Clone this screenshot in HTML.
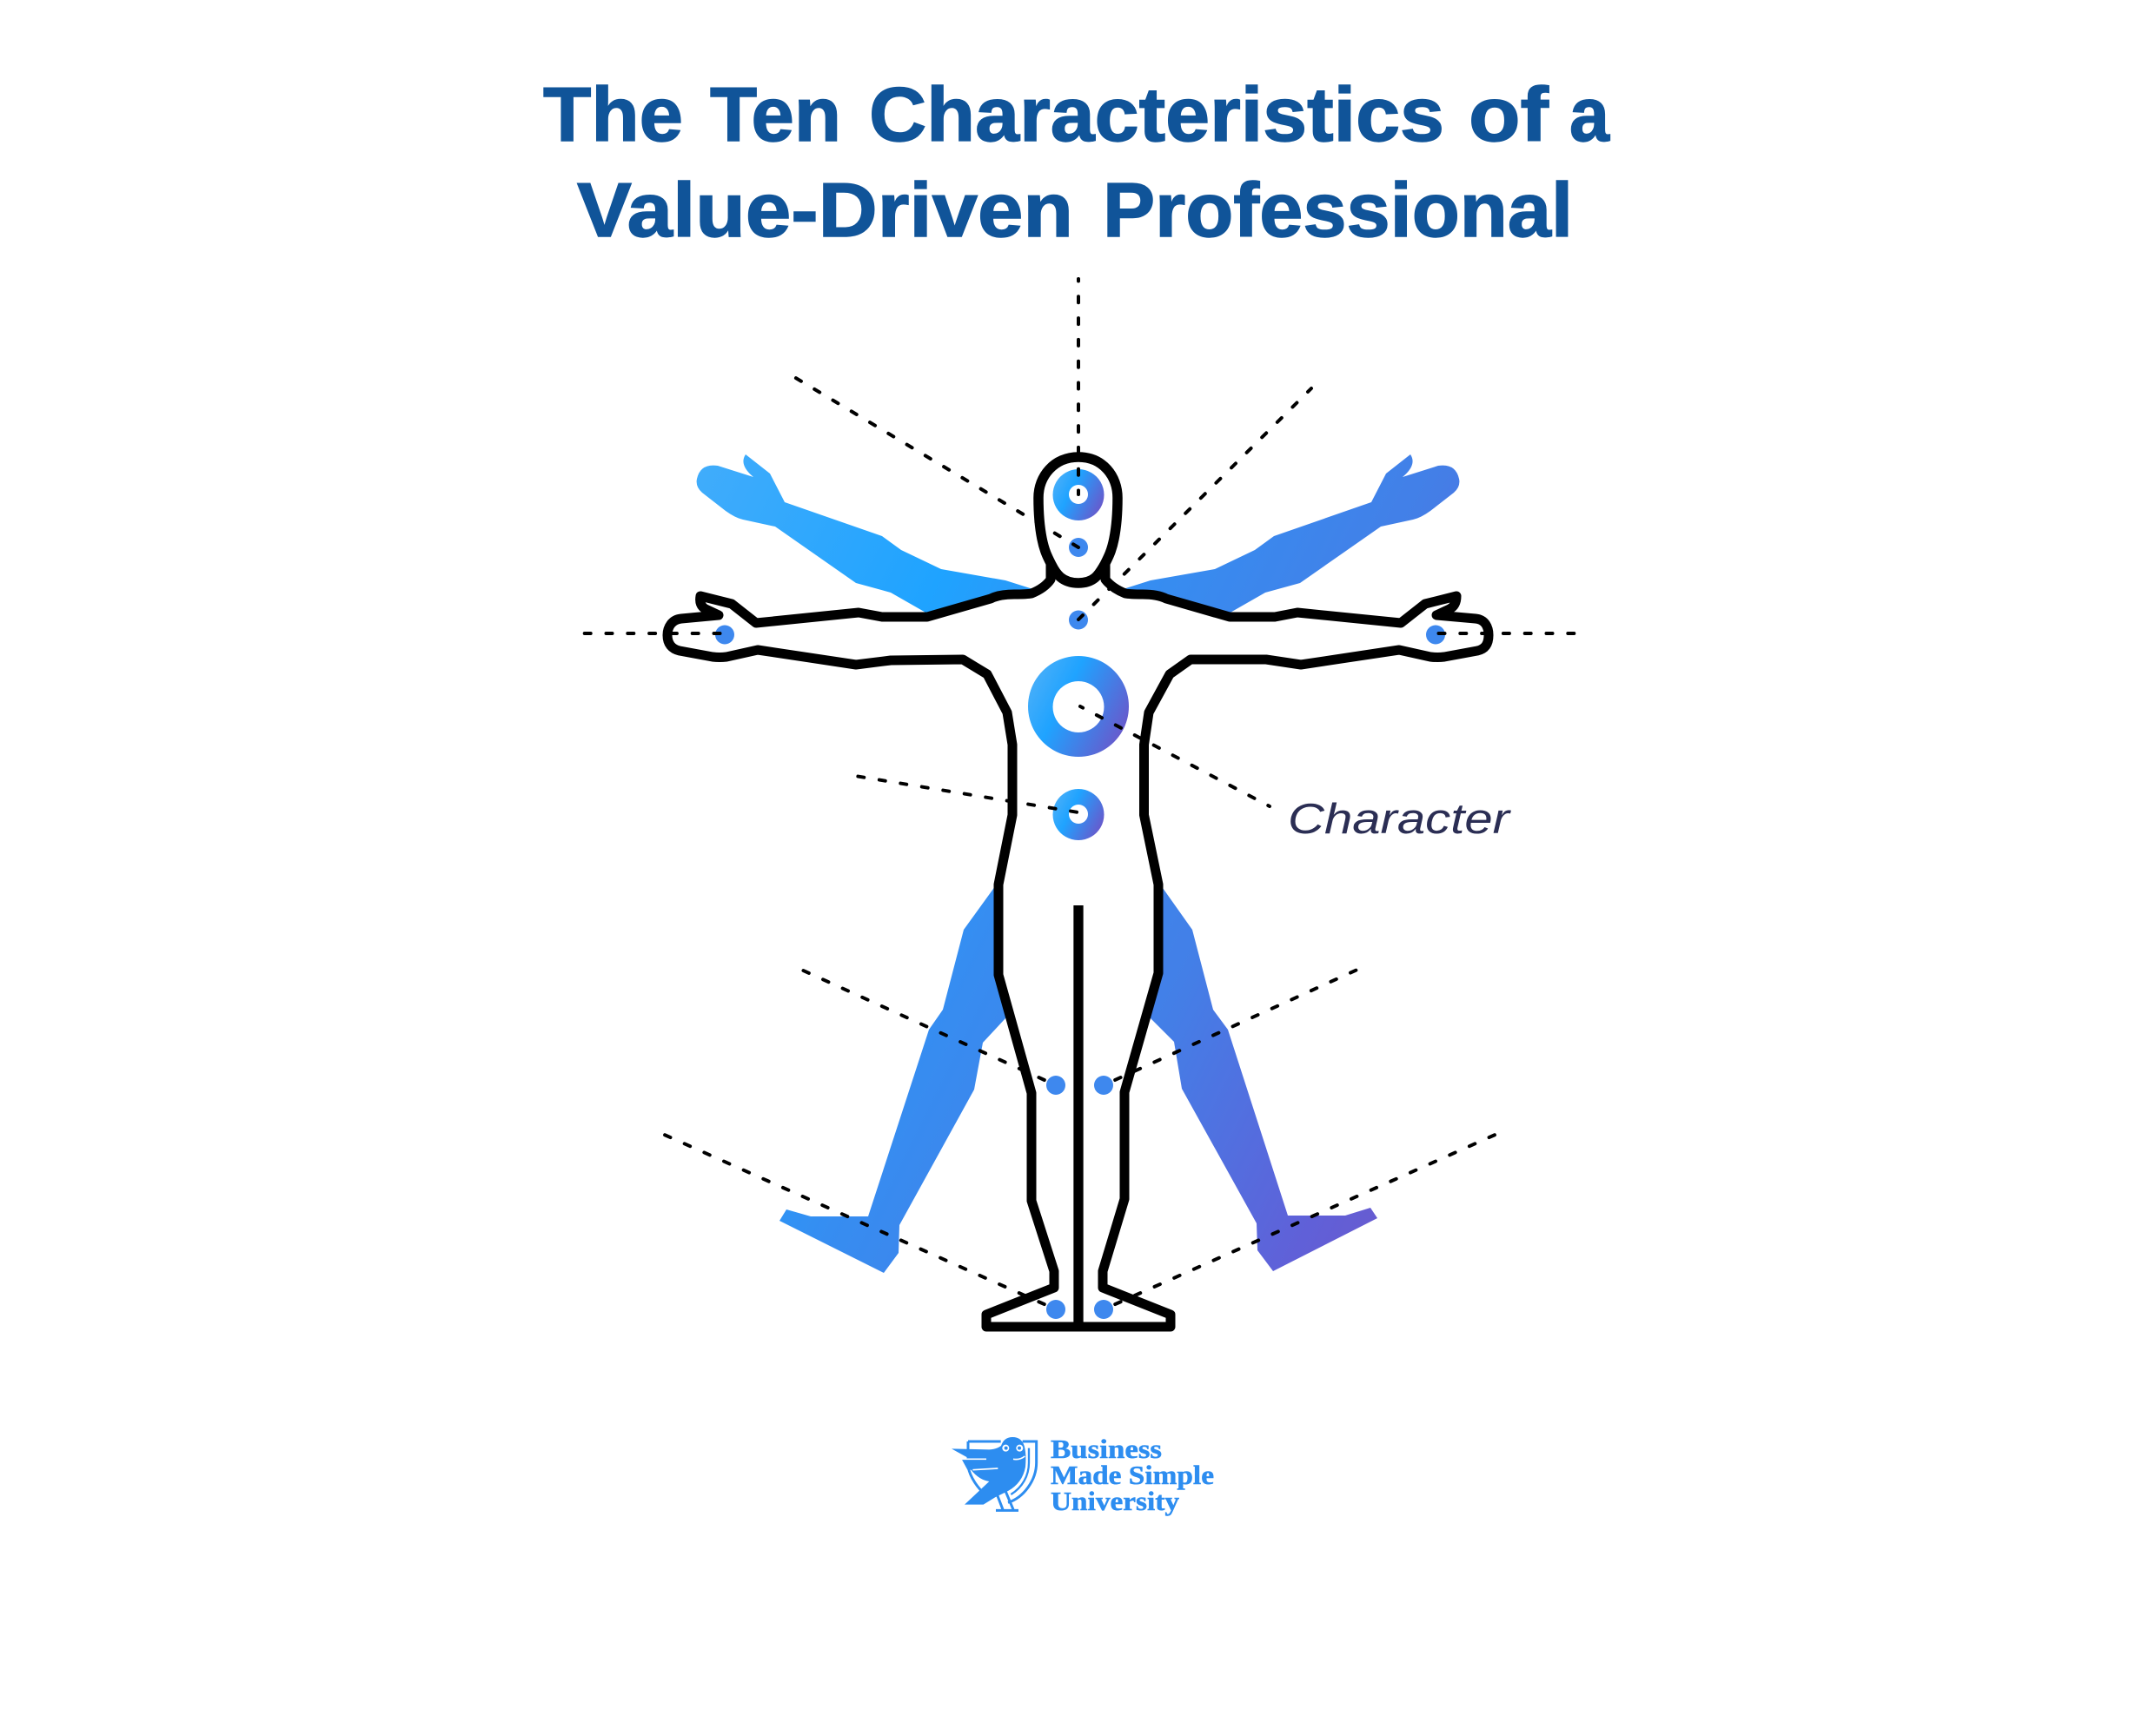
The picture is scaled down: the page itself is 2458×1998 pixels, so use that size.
<!DOCTYPE html>
<html><head><meta charset="utf-8"><style>html,body{margin:0;padding:0;background:#fff}svg{display:block}</style></head>
<body>
<svg xmlns="http://www.w3.org/2000/svg" width="2458" height="1998" viewBox="0 0 2458 1998">
<defs>
<linearGradient id="g" gradientUnits="userSpaceOnUse" x1="800" y1="550" x2="1800" y2="1050">
<stop offset="0" stop-color="#40acfb"/><stop offset=".27" stop-color="#1fa3ff"/><stop offset=".47" stop-color="#368df1"/><stop offset=".68" stop-color="#437fe7"/><stop offset=".91" stop-color="#6060d8"/><stop offset="1" stop-color="#6a5acd"/>
</linearGradient>
<linearGradient id="d" x1="0" y1=".25" x2="1" y2=".75">
<stop offset="0" stop-color="#4aaff9"/><stop offset=".35" stop-color="#1fa3ff"/><stop offset="1" stop-color="#6c55c9"/>
</linearGradient>
</defs>
<rect width="2458" height="1998" fill="#fff"/>
<g font-family="'Liberation Sans',sans-serif" font-weight="700" font-size="88" fill="#105499" stroke="#105499" stroke-width="1.4" lengthAdjust="spacingAndGlyphs">
<text x="625" y="162" textLength="161" lengthAdjust="spacingAndGlyphs">The</text>
<text x="817" y="162" textLength="151" lengthAdjust="spacingAndGlyphs">Ten</text>
<text x="1000" y="162" textLength="662" lengthAdjust="spacingAndGlyphs">Characteristics</text>
<text x="1690" y="162" textLength="92" lengthAdjust="spacingAndGlyphs">of</text>
<text x="1806" y="162" textLength="46" lengthAdjust="spacingAndGlyphs">a</text>
<text x="664" y="272" textLength="571" lengthAdjust="spacingAndGlyphs">Value-Driven</text>
<text x="1269" y="272" textLength="541" lengthAdjust="spacingAndGlyphs">Professional</text>
</g>
<g fill="url(#g)">
<path d="M858 523L886 545L903 578L1015 617L1037 633L1083 655L1157 668L1195 680L1067 706L1025 682L985 671L892 606L855 598Q846 596 835 588L808 567Q800 560 802 551Q806 533 826 536L867 549Q850 535 858 523Z"/>
<path d="M1623 523L1595 545L1578 578L1466 617L1444 633L1398 655L1324 668L1286 680L1414 706L1456 682L1496 671L1589 606L1626 598Q1635 596 1646 588L1673 567Q1681 560 1679 551Q1675 533 1655 536L1614 549Q1631 535 1623 523Z"/>
<path d="M1149 1010L1143 1023L1109 1070L1085 1162L1069 1185L999 1400L933 1400L905 1392L897 1405L1017 1465L1034 1442L1035 1410L1121 1254L1131 1200L1157 1172L1175 1150L1160 1010Z"/>
<path d="M1333 1010L1338 1022L1372 1070L1396 1162L1413 1185L1482 1399L1548 1399L1577 1390L1585 1402L1465 1463L1447 1439L1446 1408L1360 1253L1351 1199L1324 1172L1310 1150L1320 1010Z"/>
</g>
<path fill="#fff" stroke="#000" stroke-width="11" stroke-linejoin="round" d="M1209 640V667Q1202 677 1187 683Q1182 684 1167 684Q1150 684 1140 689L1067 710L1015 710L988 705L870 717L842 695L806 686Q804 697 812 701L827 708L784 712C773 713 768 722 768 731C768 741 773 747 782 749L820 756Q828 757 836 756L872 748L985 765L1025 760L1108 759L1136 776L1159 820L1165 857V938L1149 1018V1122L1187 1258V1382L1213 1463V1482L1135 1513V1527H1347V1513L1269 1482V1463L1294 1380V1257L1333 1120V1018L1316.500 938V857L1322 820L1346 776L1370 759L1457 759L1497 765L1610 748L1646 756Q1654 757 1662 756L1700 749C1709 747 1713 741 1713 731C1713 722 1709 713 1698 712L1653 708L1668 701Q1676 697 1676 686L1640 695L1612 717L1493 705L1467 710L1415 710L1342 689Q1332 684 1315 684Q1300 684 1295 683Q1280 677 1272 667V640Z"/>
<path fill="#fff" stroke="#000" stroke-width="11.500" d="M1241 526C1213 526 1195 548 1195 573C1195 590 1196 605 1199 620C1202 635 1206 642 1210 650C1215 660 1222 671 1241 671C1260 671 1265 660 1271 650C1275 642 1279 635 1282 620C1285 605 1286 590 1286 573C1286 548 1269 526 1241 526Z"/>
<path d="M1241 1042V1527" stroke="#000" stroke-width="11.300" fill="none"/>
<g fill="url(#d)" fill-rule="evenodd">
<path d="M1241 540a29.500 29.500 0 1 0 .01 0ZM1241 558a11 11 0 1 1 -.01 0Z"/>
<path d="M1241 755a58 58 0 1 0 .01 0ZM1241 784a29.500 29.500 0 1 1 -.01 0Z"/>
<path d="M1241 908a29.500 29.500 0 1 0 .01 0ZM1241 926a11 11 0 1 1 -.01 0Z"/>
</g>
<g fill="#3e88ee">
<circle cx="1241" cy="630" r="11"/><circle cx="1241" cy="713.500" r="11"/>
<circle cx="834" cy="730.500" r="11"/><circle cx="1652" cy="730.500" r="11"/>
<circle cx="1215" cy="1249" r="11"/><circle cx="1270" cy="1249" r="11"/>
<circle cx="1215" cy="1507" r="11"/><circle cx="1270" cy="1507" r="11"/>
</g>
<g stroke="#000" stroke-width="4" stroke-linecap="round" stroke-dasharray="7 17.800" fill="none">
<path d="M1241 569V321" stroke-dashoffset="2.500"/>
<path d="M1241 630L914 434"/>
<path d="M1241 713L1509 447"/>
<path d="M830 729H670" stroke-dashoffset="-1.500"/>
<path d="M1654 729H1815" stroke-dashoffset="-1.500"/>
<path d="M1243 813L1461 928" stroke-dashoffset="3.500"/>
<path d="M1241 935L984 893" stroke-dashoffset="-2"/>
<path d="M1215 1249L920 1115" stroke-dashoffset="-14.500"/>
<path d="M1270 1249L1564 1115" stroke-dashoffset="-14.500"/>
<path d="M1215 1507L760 1304" stroke-dashoffset="-14.500"/>
<path d="M1270 1507L1725 1304" stroke-dashoffset="-14.500"/>
</g>
<text x="1482" y="959" font-family="'Liberation Sans',sans-serif" font-style="italic" font-size="49" fill="#2b2e54" textLength="255" lengthAdjust="spacingAndGlyphs">Character</text>
<g transform="translate(1060 1640) scale(.3333)" fill="#2d8df0">
<path fill="none" stroke="#2d8df0" stroke-width="9" d="M162 57H275M350 57H398V130C398 190 355 250 300 268M162 57V135C162 165 185 205 215 235"/>
<path fill="none" stroke="#2d8df0" stroke-width="7" d="M372 80V130C372 175 350 215 310 240"/>
<path d="M105 82L235 85Q258 85 276 72Q286 42 316 42Q346 42 356 72Q364 100 360 145Q350 200 300 228L255 250L215 275H150L235 195Q200 190 172 155H160L140 118H170L105 82Z"/>
<path fill="none" stroke="#fff" stroke-width="5" d="M140 118H225M178 155L265 150"/>
<circle cx="292" cy="80" r="12" fill="#fff"/><circle cx="340" cy="80" r="12" fill="#fff"/>
<circle cx="293" cy="80" r="6"/><circle cx="339" cy="80" r="6"/>
<path fill="none" stroke="#fff" stroke-width="5" d="M318 118Q340 122 358 108"/>
<path fill="none" stroke="#2d8df0" stroke-width="9" d="M262 240L282 292M292 230L318 292M258 295H336"/>
</g>
<g font-family="'Liberation Serif',serif" font-weight="700" font-size="31" fill="#2d8df0" stroke="#2d8df0" stroke-width=".5">
<text x="1209" y="1678" textLength="128" lengthAdjust="spacingAndGlyphs">Business</text>
<text x="1209" y="1708" textLength="188" lengthAdjust="spacingAndGlyphs">Made Simple</text>
<text x="1209" y="1738" textLength="148" lengthAdjust="spacingAndGlyphs">University</text>
</g>
</svg>
</body></html>
